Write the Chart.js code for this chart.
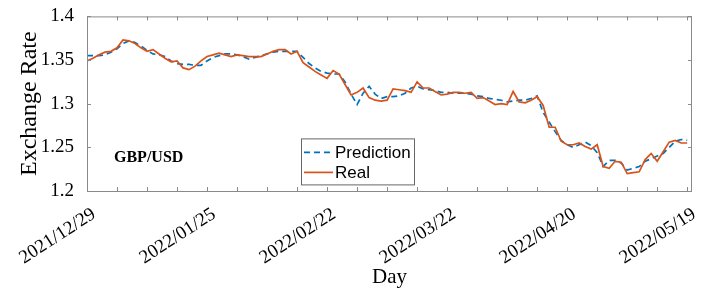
<!DOCTYPE html>
<html>
<head>
<meta charset="utf-8">
<script src="https://cdn.jsdelivr.net/npm/chart.js@4"></script>
<style>
  html, body { margin: 0; padding: 0; background: #fff; }
  #wrap { width: 706px; height: 293px; position: relative; }
</style>
</head>
<body>
<div id="wrap"><canvas id="fxChart"></canvas></div>
<script>
(() => {
  "use strict";

  // tick labels every 20 trading days
  const dayLabels = ["2021/12/29", "2022/01/25", "2022/02/22", "2022/03/22", "2022/04/20", "2022/05/19"];
  const labelEvery = 20;
  const yTicks = [1.2, 1.25, 1.3, 1.35, 1.4];

  const real = [
    1.349, 1.352, 1.356, 1.359, 1.360, 1.364, 1.373, 1.372, 1.369, 1.364,
    1.360, 1.362, 1.357, 1.352, 1.348, 1.349, 1.341, 1.339, 1.343, 1.349,
    1.354, 1.356, 1.358, 1.356, 1.354, 1.356, 1.355, 1.354, 1.354, 1.354,
    1.357, 1.360, 1.362, 1.362, 1.357, 1.360, 1.347, 1.342, 1.337, 1.333,
    1.329, 1.338, 1.334, 1.322, 1.310, 1.313, 1.318, 1.307, 1.304, 1.303,
    1.304, 1.317, 1.316, 1.315, 1.313, 1.325, 1.318, 1.318, 1.314, 1.310,
    1.311, 1.313, 1.313, 1.312, 1.313, 1.306, 1.307, 1.303, 1.299, 1.300,
    1.299, 1.314, 1.302, 1.301, 1.304, 1.308, 1.298, 1.273, 1.273, 1.257,
    1.253, 1.253, 1.255, 1.251, 1.248, 1.253, 1.228, 1.226, 1.234, 1.233,
    1.220, 1.221, 1.222, 1.236, 1.243, 1.234, 1.245, 1.256, 1.258, 1.255,
    1.255
  ];

  const prediction = [
    1.355, 1.355, 1.355, 1.356, 1.359, 1.363, 1.369, 1.372, 1.370, 1.366,
    1.361, 1.357, 1.356, 1.354, 1.349, 1.346, 1.345, 1.345, 1.344, 1.344,
    1.349, 1.353, 1.355, 1.357, 1.357, 1.356, 1.354, 1.351, 1.353, 1.355,
    1.357, 1.359, 1.360, 1.360, 1.360, 1.360, 1.353, 1.346, 1.341, 1.337,
    1.335, 1.334, 1.334, 1.325, 1.311, 1.299, 1.312, 1.320, 1.311, 1.306,
    1.308, 1.308, 1.309, 1.312, 1.318, 1.320, 1.317, 1.316, 1.315, 1.313,
    1.313, 1.312, 1.312, 1.312, 1.311, 1.309, 1.308, 1.306, 1.305, 1.304,
    1.302, 1.303, 1.304, 1.304, 1.306, 1.309, 1.290, 1.279, 1.268, 1.258,
    1.253, 1.250, 1.253, 1.256, 1.252, 1.244, 1.228, 1.235, 1.235, 1.232,
    1.224, 1.226, 1.228, 1.234, 1.237, 1.240, 1.243, 1.250, 1.257, 1.259,
    1.258
  ];

  const blue = "#0072BD";
  const orange = "#D95319";
  const axisColor = "#8a8a8a";
  const serif = "'Liberation Serif', 'Times New Roman', serif";
  const sans = "'Liberation Sans', Arial, sans-serif";
  const tickLen = 4;

  const toPoints = (arr) => arr.map((v, i) => ({ x: i, y: v }));

  // ── box, inward ticks, legend and pair tag ───────────────────────
  const frame = {
    id: "frame",
    afterDraw(chart) {
      const { ctx, chartArea: a, scales } = chart;
      const { x, y } = scales;
      ctx.save();
      ctx.strokeStyle = axisColor;
      ctx.lineWidth = 1;
      ctx.strokeRect(a.left + 0.5, a.top + 0.5, a.right - a.left - 1, a.bottom - a.top);
      ctx.beginPath();
      x.ticks.forEach((t) => {
        const px = Math.round(x.getPixelForValue(t.value)) + 0.5;
        ctx.moveTo(px, a.bottom); ctx.lineTo(px, a.bottom - tickLen);
        ctx.moveTo(px, a.top); ctx.lineTo(px, a.top + tickLen);
      });
      y.ticks.forEach((t) => {
        const py = Math.round(y.getPixelForValue(t.value)) + 0.5;
        ctx.moveTo(a.left, py); ctx.lineTo(a.left + tickLen, py);
        ctx.moveTo(a.right, py); ctx.lineTo(a.right - tickLen, py);
      });
      ctx.stroke();

      // legend
      const lx = a.left + 214, ly = a.top + 122, lw = 113, lh = 46;
      ctx.fillStyle = "#fff";
      ctx.fillRect(lx, ly, lw, lh);
      ctx.strokeStyle = "#666";
      ctx.strokeRect(lx + 0.5, ly + 0.5, lw, lh);
      ctx.font = "17px " + sans;
      ctx.textBaseline = "middle";
      ctx.textAlign = "left";
      chart.data.datasets.forEach((ds, i) => {
        const cy = ly + 14 + i * 20;
        ctx.strokeStyle = ds.borderColor;
        ctx.lineWidth = ds.borderWidth;
        ctx.setLineDash(ds.borderDash || []);
        ctx.beginPath();
        ctx.moveTo(lx + 3, cy); ctx.lineTo(lx + 32, cy);
        ctx.stroke();
        ctx.setLineDash([]);
        ctx.fillStyle = "#000";
        ctx.fillText(ds.label, lx + 34, cy + 1);
      });

      ctx.font = "bold 16px " + serif;
      ctx.fillStyle = "#000";
      ctx.fillText("GBP/USD", a.left + 27, a.top + 141);
      ctx.restore();
    },
  };

  new Chart(document.getElementById("fxChart"), {
    type: "line",
    data: {
      datasets: [
        {
          label: "Prediction",
          data: toPoints(prediction),
          borderColor: blue,
          borderWidth: 1.7,
          borderDash: [6, 4],
          pointRadius: 0,
          order: 2,
        },
        {
          label: "Real",
          data: toPoints(real),
          borderColor: orange,
          borderWidth: 1.7,
          pointRadius: 0,
          order: 1,
        },
      ],
    },
    options: {
      responsive: true,
      maintainAspectRatio: false,
      animation: false,
      layout: { padding: { top: 15, right: 14, left: 0, bottom: 0 } },
      plugins: { legend: { display: false }, tooltip: { enabled: false } },
      scales: {
        x: {
          type: "linear",
          min: 0,
          max: 100.8,
          grid: { display: false },
          border: { display: false },
          afterFit: (s) => { s.height = 102; },
          ticks: {
            stepSize: 5,
            includeBounds: false,
            autoSkip: false,
            minRotation: 33,
            maxRotation: 33,
            padding: 4,
            labelOffset: 7,
            color: "#000",
            font: { family: serif, size: 19 },
            callback: (v) => (v % labelEvery === 0 ? dayLabels[v / labelEvery] : ""),
          },
          title: {
            display: true,
            text: "Day",
            color: "#000",
            font: { family: serif, size: 21 },
            padding: { top: 0, bottom: 3 },
          },
        },
        y: {
          min: 1.2,
          max: 1.4,
          grid: { display: false },
          border: { display: false },
          afterFit: (s) => { s.width = 87; },
          afterBuildTicks: (s) => { s.ticks = yTicks.map((v) => ({ value: v })); },
          ticks: {
            padding: 5,
            color: "#000",
            font: { family: serif, size: 19 },
            callback: (v) => String(Number(v.toFixed(2))),
          },
          title: {
            display: true,
            text: "Exchange Rate",
            color: "#000",
            font: { family: serif, size: 24 },
            padding: { top: 15, bottom: 0 },
          },
        },
      },
    },
    plugins: [frame],
  });
})();
</script>
</body>
</html>
